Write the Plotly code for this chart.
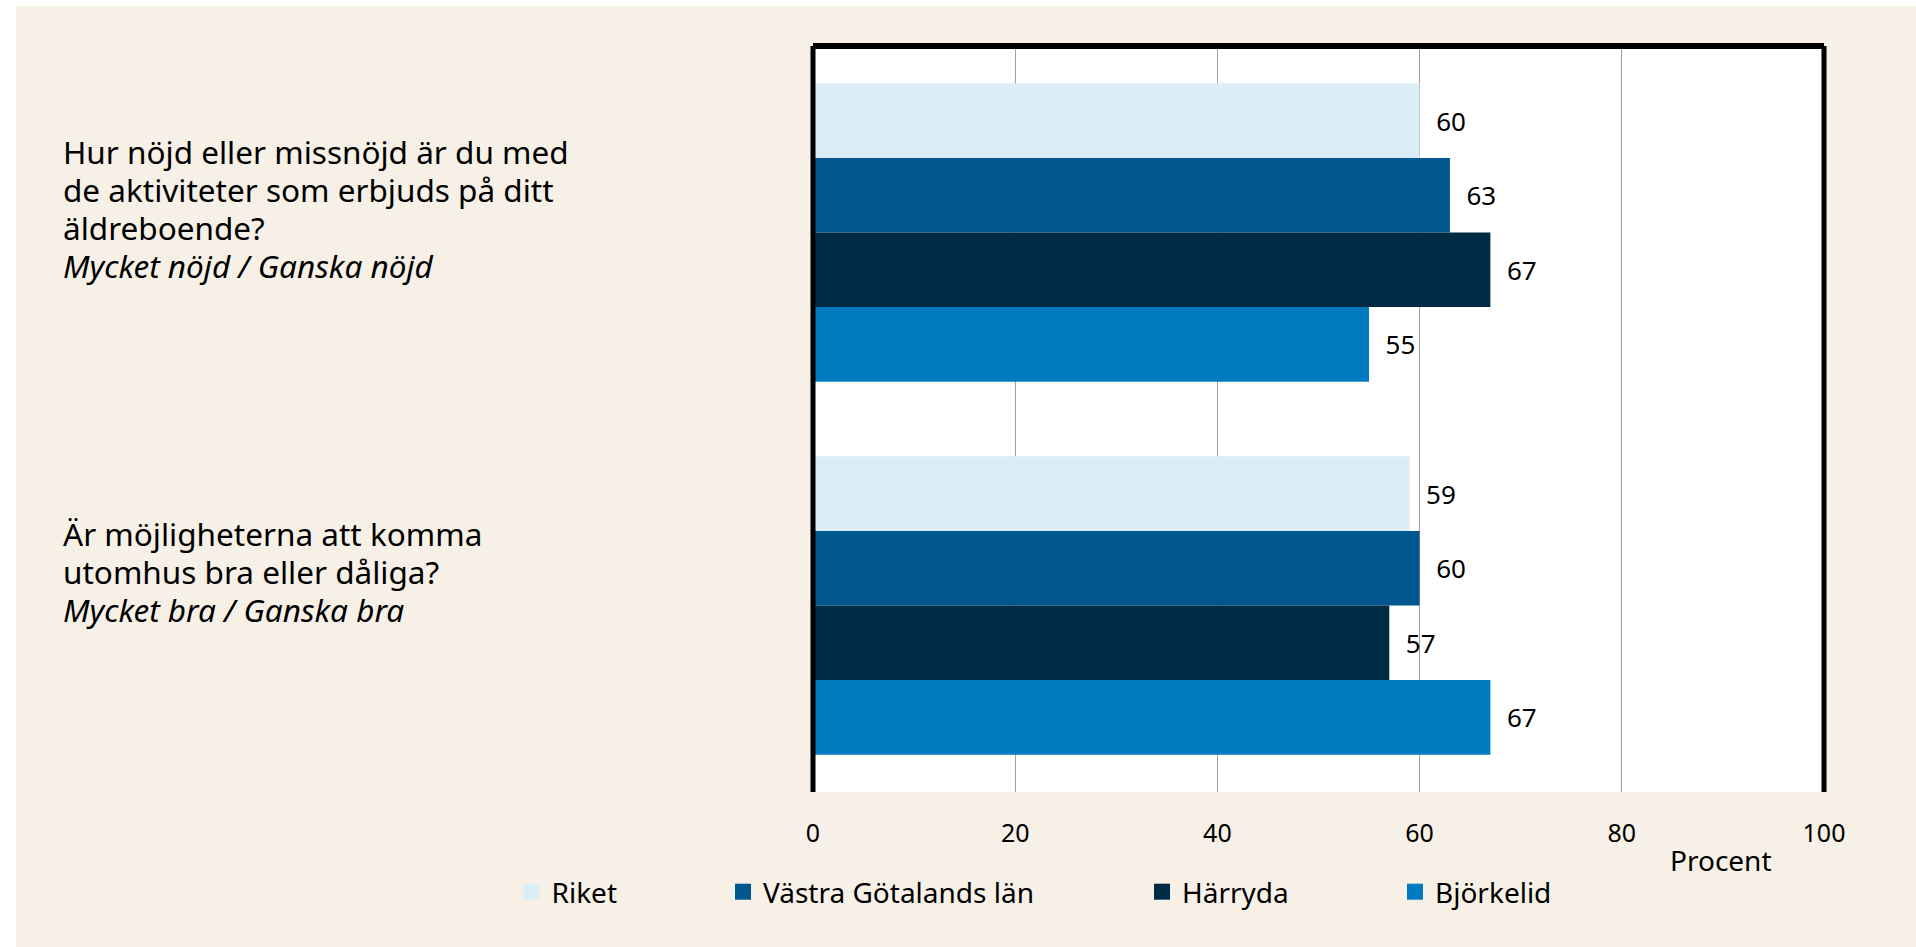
import plotly.graph_objects as go

# ---- data ----
questions = ["Q1", "Q2"]
question_lines = [
    ["Hur nöjd eller missnöjd är du med", "de aktiviteter som erbjuds på ditt",
     "äldreboende?", "<i>Mycket nöjd / Ganska nöjd</i>"],
    ["Är möjligheterna att komma", "utomhus bra eller dåliga?",
     "<i>Mycket bra / Ganska bra</i>"],
]
series_names = ["Riket", "Västra Götalands län", "Härryda", "Björkelid"]
riket = [60, 59]
vastra_gotaland = [63, 60]
harryda = [67, 57]
bjorkelid = [55, 67]
tick_values = [0, 20, 40, 60, 80, 100]
axis_title = "Procent"

series_values = [riket, vastra_gotaland, harryda, bjorkelid]
colors = ["#DCEEF5", "#00578F", "#002B44", "#007BC0"]

FONT = "Noto Sans"
W, H = 1916, 947
L, R, T, B = 813, 1824, 46, 792  # plot area pixels


def px_x(px):
    return (px - L) / (R - L)


def px_y(py):
    return 1 - (py - T) / (B - T)


fig = go.Figure()
for name, vals, col in zip(series_names, series_values, colors):
    fig.add_trace(go.Bar(
        y=questions, x=vals, name=name, orientation="h",
        marker=dict(color=col, line=dict(width=0)),
        texttemplate="\u00a0\u00a0%{x}", textposition="outside",
        textfont=dict(family=FONT, size=26, color="#000000"),
        cliponaxis=False, showlegend=False,
    ))

# legend entries (square swatches), one legend per entry
legend_names = ["legend", "legend2", "legend3", "legend4"]
for name, col, lg in zip(series_names, colors, legend_names):
    fig.add_trace(go.Scatter(
        x=[None], y=[None], mode="markers", name=name,
        marker=dict(symbol="square", size=16, color=col, line=dict(width=0)),
        legend=lg, showlegend=True, hoverinfo="skip",
    ))

legend_x_px = [511.5, 723, 1142, 1395]
legend_layout = {}
for lg, lx in zip(legend_names, legend_x_px):
    legend_layout[lg] = dict(
        x=px_x(lx), xanchor="left", y=px_y(892), yanchor="middle",
        orientation="h", bgcolor="rgba(0,0,0,0)",
        font=dict(family=FONT, size=28, color="#000000"),
        itemclick=False, itemdoubleclick=False,
    )

annotations = []
line_centers = [[151.5, 189.5, 227.5, 265.5], [533.5, 571.5, 609]]
for lines, centers in zip(question_lines, line_centers):
    for txt, cy in zip(lines, centers):
        annotations.append(dict(
            text=txt, xref="paper", yref="paper", x=px_x(61), y=px_y(cy),
            xanchor="left", yanchor="middle", align="left", showarrow=False,
            font=dict(family=FONT, size=31.5, color="#000000"),
        ))
annotations.append(dict(
    text=axis_title, xref="paper", yref="paper", x=px_x(1721), y=px_y(860),
    xanchor="center", yanchor="middle", showarrow=False,
    font=dict(family=FONT, size=28, color="#000000"),
))

shapes = [
    # white strips outside the beige panel
    dict(type="rect", xref="paper", yref="paper", x0=px_x(0), x1=px_x(W), y0=px_y(6), y1=px_y(0),
         fillcolor="#FFFFFF", line=dict(width=0), layer="above"),
    dict(type="rect", xref="paper", yref="paper", x0=px_x(0), x1=px_x(16), y0=px_y(H), y1=px_y(0),
         fillcolor="#FFFFFF", line=dict(width=0), layer="above"),
    # frame: left, top, right
    dict(type="line", xref="paper", yref="paper", x0=0, x1=0, y0=0, y1=1.0,
         line=dict(color="#000000", width=5), layer="above"),
    dict(type="line", xref="paper", yref="paper", x0=0, x1=1, y0=1, y1=1,
         line=dict(color="#000000", width=6), layer="above"),
    dict(type="line", xref="paper", yref="paper", x0=1, x1=1, y0=0, y1=1.0,
         line=dict(color="#000000", width=5), layer="above"),
]

fig.update_layout(
    width=W, height=H,
    margin=dict(l=L, r=W - R, t=T, b=H - B, pad=0),
    paper_bgcolor="#F7F0E6", plot_bgcolor="#FFFFFF",
    barmode="group", bargap=0.2, bargroupgap=0,
    font=dict(family=FONT, size=25, color="#000000"),
    showlegend=True,
    annotations=annotations, shapes=shapes,
    **legend_layout,
)
fig.update_xaxes(
    range=[0, 100], tickvals=tick_values, ticktext=[str(v) for v in tick_values],
    showgrid=True, gridcolor="#A0A0A0", gridwidth=1, zeroline=False,
    showline=False, ticks="", ticklabelstandoff=24,
    tickfont=dict(family=FONT, size=25, color="#000000"), fixedrange=True,
)
fig.update_yaxes(
    range=[1.5, -0.5], showticklabels=False, showgrid=False, zeroline=False,
    showline=False, ticks="", fixedrange=True,
)

fig.write_html(
    "out.html",
    config={"displayModeBar": False},
    post_script="document.body.style.margin='0';document.body.style.overflow='hidden';",
)
